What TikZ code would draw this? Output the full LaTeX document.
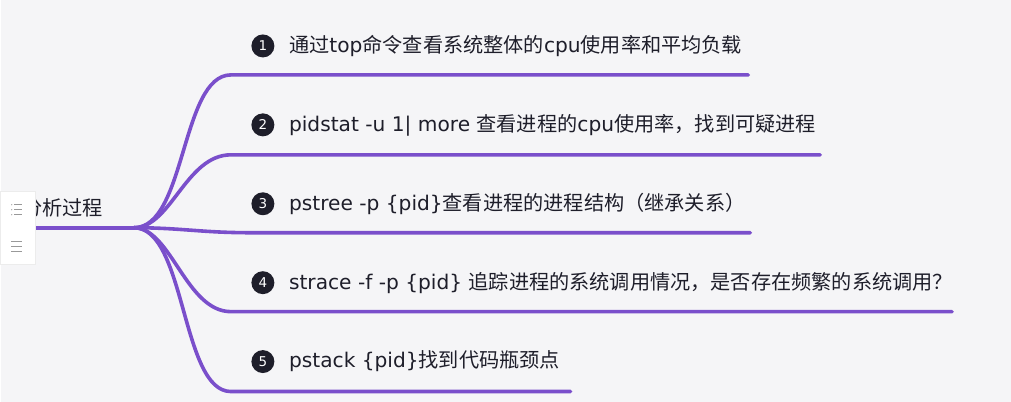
\documentclass[tikz,border=0pt]{standalone}
\usepackage{fontspec}
\setmainfont{Noto Sans CJK SC}
\newfontfamily\lat{DejaVu Sans}
\definecolor{branch}{HTML}{7A4FCB}
\definecolor{ink}{HTML}{1E1E2A}
\definecolor{paper}{HTML}{F5F5F7}
\begin{document}
\begin{tikzpicture}[x=1pt,y=-1pt]
		\tikzstyle{every node}+=[inner sep=0pt]
		\tikzstyle{topic}=[anchor=west,text=ink,font=\fontsize{20.2}{24}\selectfont]
		\tikzstyle{badge}=[shape=circle,fill=ink,text=white,minimum width=23pt,minimum height=23pt,font=\lat\fontsize{13.5}{14}\selectfont]
		\tikzstyle{limb}=[draw=branch,line width=3.6pt,line cap=round]
		\tikzstyle{icon}=[draw=gray!80,line width=0.8pt]
		\fill [paper] (0,0) rectangle (1011,402);
		\node [topic] (root) at (21,208) {分析过程};
		\coordinate (stem) at (34,228);
		\coordinate (hub) at (133,228);
		\draw [limb] (stem) -- (hub);
		\coordinate (s1) at (230,75);
		\coordinate (e1) at (748,75);
		\draw [limb] (hub) .. controls (185,228) and (180,75) .. (s1) -- (e1);
		\coordinate (s2) at (230,155);
		\coordinate (e2) at (820,155);
		\draw [limb] (hub) .. controls (170,228) and (185,155) .. (s2) -- (e2);
		\coordinate (s3) at (250,233);
		\coordinate (e3) at (750,233);
		\draw [limb] (hub) .. controls (180,228) and (200,233) .. (s3) -- (e3);
		\coordinate (s4) at (230,312);
		\coordinate (e4) at (952,312);
		\draw [limb] (hub) .. controls (170,228) and (185,312) .. (s4) -- (e4);
		\coordinate (s5) at (230,392);
		\coordinate (e5) at (570,392);
		\draw [limb] (hub) .. controls (185,228) and (180,392) .. (s5) -- (e5);
		\node [badge] (b1) at (262,46) {1};
		\node [topic] (t1) at (288,46) {通过{\lat top}命令查看系统整体的{\lat cpu}使用率和平均负载};
		\node [badge] (b2) at (262,125) {2};
		\node [topic] (t2) at (288,125) {{\lat pidstat -u 1| more }查看进程的{\lat cpu}使用率，找到可疑进程};
		\node [badge] (b3) at (262,204) {3};
		\node [topic] (t3) at (288,204) {{\lat pstree -p \{pid\}}查看进程的进程结构（继承关系）};
		\node [badge] (b4) at (262,283) {4};
		\node [topic] (t4) at (288,283) {{\lat strace -f -p \{pid\} }追踪进程的系统调用情况，是否存在频繁的系统调用？};
		\node [badge] (b5) at (262,362) {5};
		\node [topic] (t5) at (288,362) {{\lat pstack \{pid\}}找到代码瓶颈点};
		\filldraw [fill=white,draw=gray!15] (-1,191) rectangle (34,265);
		\foreach \y in {205,210,215} {
			\draw [icon] (13,\y) -- (21,\y);
			\fill [gray!80] (10.5,\y) circle (0.6);
		}
		\foreach \y in {242,247,252}
			\draw [icon] (10,\y) -- (21,\y);
\end{tikzpicture}
\end{document}
